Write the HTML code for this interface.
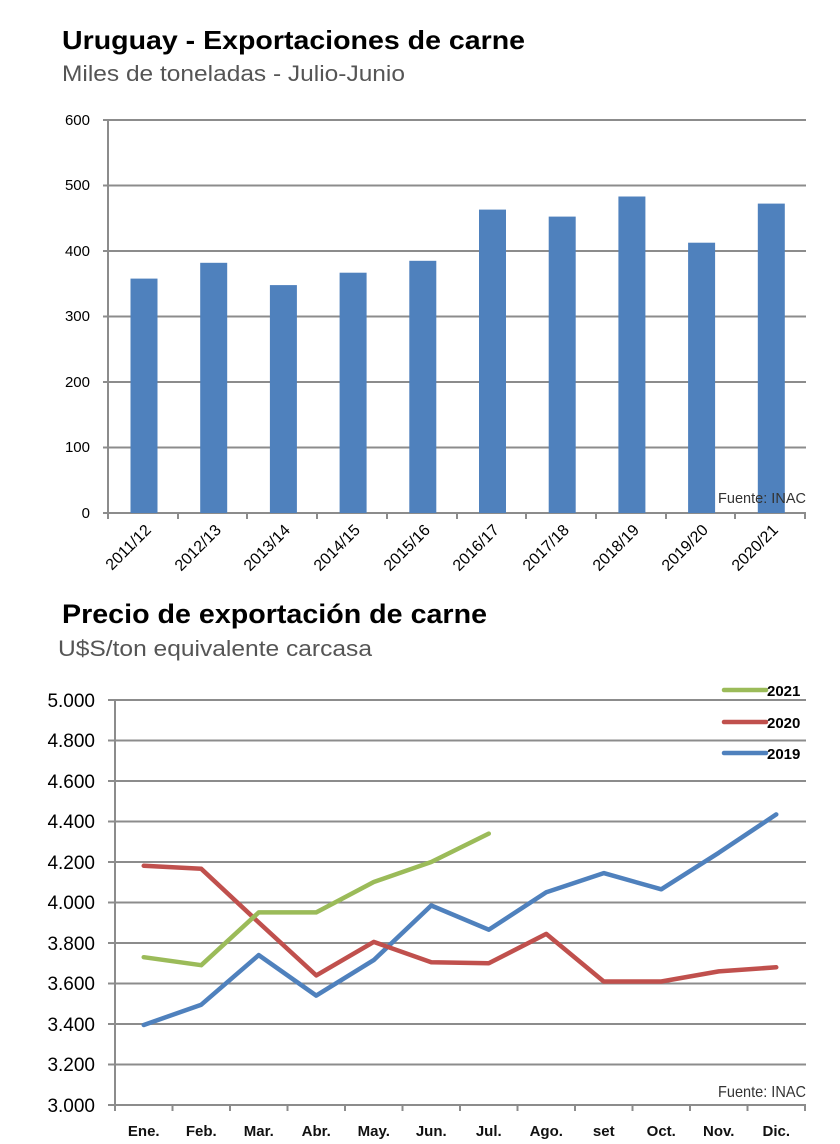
<!DOCTYPE html>
<html><head><meta charset="utf-8"><style>
html,body{margin:0;padding:0;background:#fff;}
svg{display:block;}
text{font-family:"Liberation Sans",sans-serif;}
</style></head><body>
<svg width="840" height="1144" viewBox="0 0 840 1144" xmlns="http://www.w3.org/2000/svg">
<rect width="840" height="1144" fill="#fff"/>
<text x="62" y="49" font-size="26" font-weight="bold" fill="#000" textLength="463" lengthAdjust="spacingAndGlyphs">Uruguay - Exportaciones de carne</text>
<text x="62" y="81" font-size="22" fill="#555" textLength="343" lengthAdjust="spacingAndGlyphs">Miles de toneladas - Julio-Junio</text>
<g stroke="#8c8c8c" stroke-width="2">
<line x1="103" y1="120" x2="806" y2="120"/>
<line x1="103" y1="185.5" x2="806" y2="185.5"/>
<line x1="103" y1="251" x2="806" y2="251"/>
<line x1="103" y1="316.5" x2="806" y2="316.5"/>
<line x1="103" y1="382" x2="806" y2="382"/>
<line x1="103" y1="447.5" x2="806" y2="447.5"/>
<line x1="103" y1="513" x2="806" y2="513"/>
<line x1="108" y1="120" x2="108" y2="518"/>
</g>
<g fill="#000" font-size="15" text-anchor="end">
<text x="90" y="125">600</text><text x="90" y="190">500</text><text x="90" y="256">400</text><text x="90" y="321">300</text><text x="90" y="387">200</text><text x="90" y="452">100</text><text x="90" y="518">0</text>
</g>
<g fill="#4f81bd">
<rect x="130.5" y="278.6" width="27" height="234.4"/>
<rect x="200.2" y="262.8" width="27" height="250.2"/>
<rect x="269.9" y="285.1" width="27" height="227.9"/>
<rect x="339.6" y="272.7" width="27" height="240.3"/>
<rect x="409.3" y="260.8" width="27" height="252.2"/>
<rect x="479" y="209.6" width="27" height="303.4"/>
<rect x="548.7" y="216.6" width="27" height="296.4"/>
<rect x="618.4" y="196.5" width="27" height="316.5"/>
<rect x="688.1" y="242.7" width="27" height="270.3"/>
<rect x="757.8" y="203.6" width="27" height="309.4"/>
</g>
<g stroke="#8c8c8c" stroke-width="2">
<line x1="108" y1="513" x2="108" y2="519"/><line x1="178" y1="513" x2="178" y2="519"/><line x1="247" y1="513" x2="247" y2="519"/><line x1="317" y1="513" x2="317" y2="519"/><line x1="387" y1="513" x2="387" y2="519"/><line x1="457" y1="513" x2="457" y2="519"/><line x1="526" y1="513" x2="526" y2="519"/><line x1="596" y1="513" x2="596" y2="519"/><line x1="666" y1="513" x2="666" y2="519"/><line x1="735" y1="513" x2="735" y2="519"/><line x1="805" y1="513" x2="805" y2="519"/>
</g>
<text x="806" y="503" font-size="15" fill="#333" text-anchor="end" textLength="88" lengthAdjust="spacingAndGlyphs">Fuente: INAC</text>
<g fill="#000" font-size="16" text-anchor="end">
<text transform="translate(152,531) rotate(-45)">2011/12</text>
<text transform="translate(222,531) rotate(-45)">2012/13</text>
<text transform="translate(291,531) rotate(-45)">2013/14</text>
<text transform="translate(361,531) rotate(-45)">2014/15</text>
<text transform="translate(431,531) rotate(-45)">2015/16</text>
<text transform="translate(500,531) rotate(-45)">2016/17</text>
<text transform="translate(570,531) rotate(-45)">2017/18</text>
<text transform="translate(640,531) rotate(-45)">2018/19</text>
<text transform="translate(709,531) rotate(-45)">2019/20</text>
<text transform="translate(779,531) rotate(-45)">2020/21</text>
</g>

<text x="62" y="623" font-size="27" font-weight="bold" fill="#000" textLength="425" lengthAdjust="spacingAndGlyphs">Precio de exportación de carne</text>
<text x="58" y="656" font-size="22" fill="#555" textLength="314" lengthAdjust="spacingAndGlyphs">U$S/ton equivalente carcasa</text>

<g stroke="#8c8c8c" stroke-width="2">
<line x1="108" y1="700" x2="806" y2="700"/>
<line x1="108" y1="740.5" x2="806" y2="740.5"/>
<line x1="108" y1="781" x2="806" y2="781"/>
<line x1="108" y1="821.5" x2="806" y2="821.5"/>
<line x1="108" y1="862" x2="806" y2="862"/>
<line x1="108" y1="902.5" x2="806" y2="902.5"/>
<line x1="108" y1="943" x2="806" y2="943"/>
<line x1="108" y1="983.5" x2="806" y2="983.5"/>
<line x1="108" y1="1024" x2="806" y2="1024"/>
<line x1="108" y1="1064.5" x2="806" y2="1064.5"/>
<line x1="108" y1="1105" x2="806" y2="1105"/>
<line x1="115" y1="700" x2="115" y2="1111"/>
<line x1="172.5" y1="1105" x2="172.5" y2="1111"/><line x1="230" y1="1105" x2="230" y2="1111"/><line x1="287.5" y1="1105" x2="287.5" y2="1111"/><line x1="345" y1="1105" x2="345" y2="1111"/><line x1="402.5" y1="1105" x2="402.5" y2="1111"/><line x1="460" y1="1105" x2="460" y2="1111"/><line x1="517.5" y1="1105" x2="517.5" y2="1111"/><line x1="575" y1="1105" x2="575" y2="1111"/><line x1="632.5" y1="1105" x2="632.5" y2="1111"/><line x1="690" y1="1105" x2="690" y2="1111"/><line x1="747.5" y1="1105" x2="747.5" y2="1111"/><line x1="805" y1="1105" x2="805" y2="1111"/>
</g>
<g fill="#000" font-size="19" text-anchor="end">
<text x="95" y="707">5.000</text><text x="95" y="747">4.800</text><text x="95" y="788">4.600</text><text x="95" y="828">4.400</text><text x="95" y="869">4.200</text><text x="95" y="909">4.000</text><text x="95" y="950">3.800</text><text x="95" y="990">3.600</text><text x="95" y="1031">3.400</text><text x="95" y="1071">3.200</text><text x="95" y="1112">3.000</text>
</g>
<g fill="none" stroke-width="4.5" stroke-linejoin="round" stroke-linecap="round">
<polyline stroke="#4f81bd" points="143.75,1025 201.25,1004.7 258.75,955.1 316.25,995.6 373.75,960.1 431.25,905.5 488.75,929.7 546.25,892.3 603.75,873.1 661.25,889.3 718.75,852.8 776.25,814.4"/>
<polyline stroke="#c0504d" points="143.75,865.8 201.25,868.8 258.75,922.5 316.25,975.4 373.75,941.9 431.25,962.2 488.75,963.3 546.25,933.9 603.75,981.5 661.25,981.5 718.75,971.4 776.25,967.3"/>
<polyline stroke="#9bbb59" points="143.75,957.2 201.25,965.2 258.75,912.4 316.25,912.4 373.75,882 431.25,862 488.75,833.6"/>
<line stroke="#9bbb59" x1="724" y1="690" x2="766" y2="690"/>
<line stroke="#c0504d" x1="724" y1="722" x2="766" y2="722"/>
<line stroke="#4f81bd" x1="724" y1="753" x2="766" y2="753"/>
</g>
<g fill="#000" font-size="15" font-weight="bold">
<text x="767" y="696">2021</text><text x="767" y="728">2020</text><text x="767" y="759">2019</text>
</g>
<text x="806" y="1097" font-size="16" fill="#333" text-anchor="end" textLength="88" lengthAdjust="spacingAndGlyphs">Fuente: INAC</text>
<g fill="#111" font-size="15" font-weight="bold" text-anchor="middle">
<text x="143.75" y="1136">Ene.</text><text x="201.25" y="1136">Feb.</text><text x="258.75" y="1136">Mar.</text><text x="316.25" y="1136">Abr.</text><text x="373.75" y="1136">May.</text><text x="431.25" y="1136">Jun.</text><text x="488.75" y="1136">Jul.</text><text x="546.25" y="1136">Ago.</text><text x="603.75" y="1136">set</text><text x="661.25" y="1136">Oct.</text><text x="718.75" y="1136">Nov.</text><text x="776.25" y="1136">Dic.</text>
</g>
</svg>
</body></html>
